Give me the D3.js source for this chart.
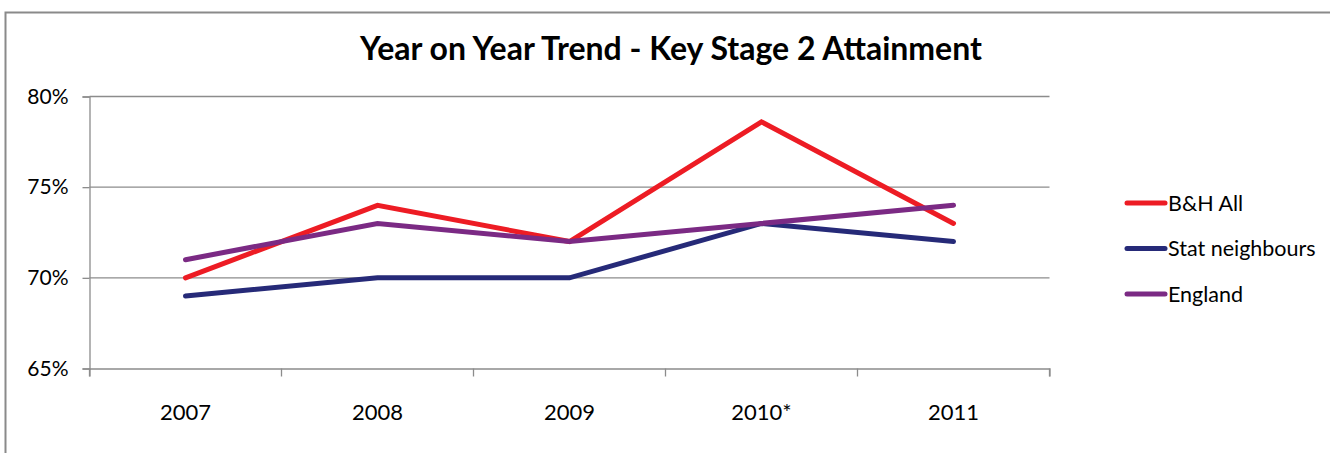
<!DOCTYPE html>
<html><head><meta charset="utf-8">
<script src="https://cdn.jsdelivr.net/npm/d3@7"></script>
<style>body{margin:0;background:#fff;} svg{display:block;font-family:Lato,"Open Sans",sans-serif;}</style>
</head><body>
<svg id="c" width="1330" height="453"></svg>
<script>
const categories = ["2007","2008","2009","2010*","2011"];
const seriesNames = ["B&H All","Stat neighbours","England"];
const bhAll = [70, 74, 72, 78.6, 73];
const statNeighbours = [69, 70, 70, 73, 72];
const england = [71, 73, 72, 73, 74];
const yTicks = [65, 70, 75, 80];
const colors = ["#ED1C24", "#262A78", "#7B2A84"];
const title = "Year on Year Trend - Key Stage 2 Attainment";

const svg = d3.select("#c");
svg.append("path").attr("d","M1330,12.5 H5.5 V453").attr("fill","none").attr("stroke","#8a8a8a").attr("stroke-width",2);

const x = d3.scaleBand().domain(categories).range([89.5,1049.5]);
const y = d3.scaleLinear().domain([65,80]).range([368.5,96.5]);

svg.append("text").attr("x",671).attr("y",60).attr("text-anchor","middle")
  .attr("font-weight","bold").attr("font-size",32).attr("fill","#000").text(title);

svg.append("g").selectAll("line").data(yTicks.filter(t=>t!==65)).join("line")
  .attr("x1",89.5).attr("x2",1049.5).attr("y1",d=>y(d)).attr("y2",d=>y(d))
  .attr("stroke","#8c8c8c").attr("stroke-width",1.3);

const yAxis = svg.append("g").attr("transform","translate(89.5,0)")
  .call(d3.axisLeft(y).tickValues(yTicks).tickFormat(d=>d+"%").tickSize(7).tickPadding(14));
const xAxis = svg.append("g").attr("transform","translate(0,368.5)")
  .call(d3.axisBottom(x).tickSize(8).tickPadding(22));
xAxis.selectAll(".tick").remove();
xAxis.append("g").selectAll("line").data(categories.concat(["end"])).join("line")
  .attr("x1",(d,i)=> i<categories.length ? x(d) : x.range()[1])
  .attr("x2",(d,i)=> i<categories.length ? x(d) : x.range()[1])
  .attr("y1",0).attr("y2",8).attr("stroke","#8c8c8c").attr("stroke-width",1.3);
xAxis.append("g").selectAll("text").data(categories).join("text")
  .attr("x",d=>x(d)+x.bandwidth()/2).attr("y",51).attr("text-anchor","middle")
  .attr("font-size",22).attr("fill","#000").text(d=>d);
[yAxis,xAxis].forEach(a=>{a.select(".domain").attr("stroke","#8c8c8c").attr("stroke-width",1.3);});
yAxis.selectAll(".tick line").attr("stroke","#8c8c8c").attr("stroke-width",1.3);
yAxis.selectAll(".tick text").attr("font-size",21).attr("fill","#000").attr("font-family","Lato,'Open Sans',sans-serif");
xAxis.attr("font-family",null);
yAxis.attr("font-family",null);

const data = [bhAll, statNeighbours, england];
const line = d3.line().x((d,i)=>x(categories[i])+x.bandwidth()/2).y(d=>y(d));
svg.append("g").selectAll("path").data(data).join("path")
  .attr("d",line).attr("fill","none").attr("stroke",(d,i)=>colors[i])
  .attr("stroke-width",5).attr("stroke-linejoin","miter").attr("stroke-linecap","round");

const lg = svg.append("g").selectAll("g").data(seriesNames).join("g")
  .attr("transform",(d,i)=>`translate(1127,${203+i*45.5})`);
lg.append("line").attr("x1",0).attr("x2",38).attr("stroke",(d,i)=>colors[i]).attr("stroke-width",5).attr("stroke-linecap","round");
lg.append("text").attr("x",41).attr("y",7.5).attr("font-size",21.5).attr("fill","#000").text(d=>d);
</script>
</body></html>
